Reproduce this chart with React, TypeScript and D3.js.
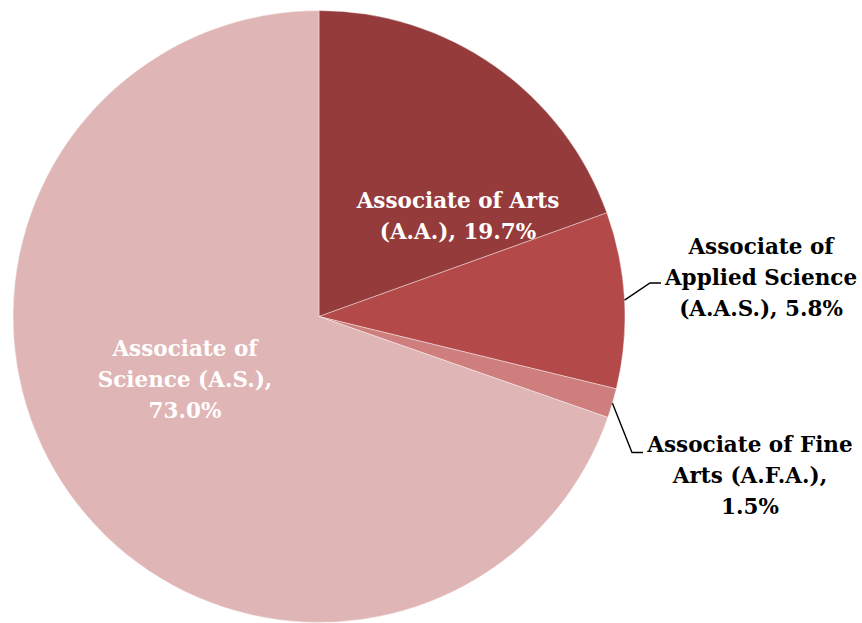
import React from "react";
import * as d3 from "d3";

const categories = [
  "Associate of Arts (A.A.)",
  "Associate of Applied Science (A.A.S.)",
  "Associate of Fine Arts (A.F.A.)",
  "Associate of Science (A.S.)",
];
// percentages as printed in the labels
const percentLabels = ["19.7%", "5.8%", "1.5%", "73.0%"];
// slice shares as drawn in the picture
const shares = [19.5, 9.3, 1.55, 69.65];
const labelLines = [
  ["Associate of Arts", "(A.A.), " + percentLabels[0]],
  ["Associate of", "Applied Science", "(A.A.S.), " + percentLabels[1]],
  ["Associate of Fine", "Arts (A.F.A.),", percentLabels[2]],
  ["Associate of", "Science (A.S.),", percentLabels[3]],
];
const colors = ["#953b3b", "#b34a49", "#ce7e7d", "#dfb5b5"];
const textColors = ["#ffffff", "#000000", "#000000", "#ffffff"];

const W = 862;
const H = 623;
const cx = 319;
const cy = 316.5;
const R = 306;

// label layout: center x, first baseline y
const labelPos = [
  { x: 458, y: 208 },
  { x: 761, y: 254 },
  { x: 750, y: 452 },
  { x: 185, y: 356 },
];
// leader lines for outside labels
const leaders: Record<number, { elbow: [number, number]; end: [number, number] }> = {
  1: { elbow: [650, 283], end: [661, 283] },
  2: { elbow: [632, 452.5], end: [643, 452.5] },
};

export default function App() {
  const pie = d3.pie<number>().sort(null).value((d) => d);
  const arcs = pie(shares);
  const arc = d3.arc<d3.PieArcDatum<number>>().innerRadius(0).outerRadius(R);
  const lineH = 31;
  return (
    <svg width={W} height={H} style={{ position: "absolute", left: 0, top: 0 }}>
      <g transform={`translate(${cx},${cy})`}>
        {arcs.map((a, i) => (
          <path key={categories[i]} d={arc(a) || ""} fill={colors[i]} stroke="#ffffff" strokeWidth={0.4} />
        ))}
      </g>
      {arcs.map((a, i) => {
        const L = leaders[i];
        if (!L) return null;
        const ang = (a.startAngle + a.endAngle) / 2;
        const sx = cx + R * Math.sin(ang);
        const sy = cy - R * Math.cos(ang);
        return (
          <polyline
            key={"l" + i}
            points={`${sx},${sy} ${L.elbow[0]},${L.elbow[1]} ${L.end[0]},${L.end[1]}`}
            fill="none"
            stroke="#000"
            strokeWidth={1.4}
          />
        );
      })}
      {labelLines.map((lines, i) => (
        <text
          key={"t" + i}
          textAnchor="middle"
          fontFamily="'DejaVu Serif', serif"
          fontWeight="bold"
          fontSize={21.5}
          fill={textColors[i]}
        >
          {lines.map((ln, j) => (
            <tspan key={j} x={labelPos[i].x} y={labelPos[i].y + j * lineH}>
              {ln}
            </tspan>
          ))}
        </text>
      ))}
    </svg>
  );
}
